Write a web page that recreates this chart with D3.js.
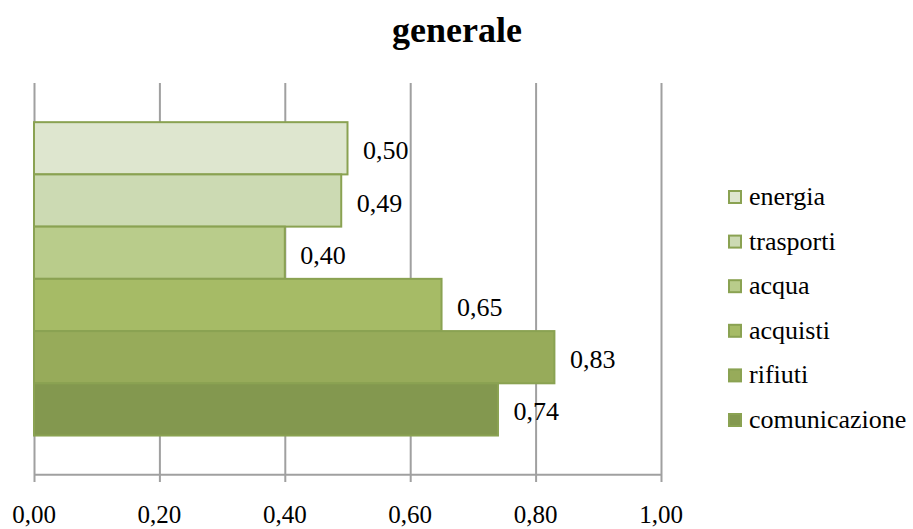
<!DOCTYPE html>
<html>
<head>
<meta charset="utf-8">
<script src="https://cdn.jsdelivr.net/npm/d3@7/dist/d3.min.js"></script>
<style>
body { margin: 0; background: #fff; }
</style>
</head>
<body>
<script>
var title = 'generale'
var series = ['energia', 'trasporti', 'acqua', 'acquisti', 'rifiuti', 'comunicazione']
var values = [0.50, 0.49, 0.40, 0.65, 0.83, 0.74]
var colors = ['#dee6cf', '#ccdab3', '#b9cc8b', '#a6bb66', '#97ab5a', '#83984f']
var ticks = [0, 0.2, 0.4, 0.6, 0.8, 1.0]

var W = 913, H = 529
var plot = { left: 34, right: 661, top: 83, bottom: 474.7 }
var serif = "'Liberation Serif', 'Times New Roman', serif"

var fmt = function (n) { return d3.format('.2f')(n).replace('.', ',') }

var svg = d3.select('body').append('svg')
    .attr('width', W)
    .attr('height', H)

svg.append('text')
    .attr('x', 457)
    .attr('y', 42)
    .attr('text-anchor', 'middle')
    .style('font-family', serif)
    .style('font-size', '36px')
    .style('font-weight', 'bold')
    .text(title)

var x = d3.scaleLinear()
    .domain([0, 1])
    .range([plot.left, plot.right])

// excel style gap width 150% around the single category
var y = d3.scaleBand()
    .domain(series)
    .range([plot.top, plot.bottom])
    .paddingInner(0)
    .paddingOuter(0.75)

var xAxis = d3.axisBottom(x)
    .tickValues(ticks)
    .tickSize(-(plot.bottom - plot.top))
    .tickFormat('')

var gx = svg.append('g')
    .attr('class', 'x axis')
    .attr('transform', 'translate(0,' + plot.bottom + ')')
    .call(xAxis)

gx.select('.domain').remove()
gx.selectAll('.tick line')
    .attr('stroke', '#a0a0a0')
    .attr('stroke-width', 2)
    .attr('y2', 7.3)
    .attr('y1', -(plot.bottom - plot.top))

svg.append('line')
    .attr('x1', x(0))
    .attr('x2', x(1))
    .attr('y1', plot.bottom)
    .attr('y2', plot.bottom)
    .attr('stroke', '#a0a0a0')
    .attr('stroke-width', 2)

svg.selectAll('.tick-label')
    .data(ticks)
    .enter().append('text')
    .attr('class', 'tick-label')
    .attr('x', function (d) { return x(d) })
    .attr('y', 523)
    .attr('text-anchor', 'middle')
    .style('font-family', serif)
    .style('font-size', '25px')
    .text(fmt)

var bars = svg.selectAll('.bar')
    .data(series)
    .enter().append('g')
    .attr('class', 'bar')

bars.append('rect')
    .attr('x', x(0))
    .attr('y', function (d) { return y(d) })
    .attr('width', function (d, i) { return x(values[i]) - x(0) })
    .attr('height', y.bandwidth())
    .attr('fill', function (d, i) { return colors[i] })
    .attr('stroke', '#8aa252')
    .attr('stroke-width', 2)

bars.append('text')
    .attr('x', function (d, i) { return x(values[i]) + 15.5 })
    .attr('y', function (d) { return y(d) + y.bandwidth() / 2 + 11 })
    .style('font-family', serif)
    .style('font-size', '26px')
    .text(function (d, i) { return fmt(values[i]) })

var legend = svg.selectAll('.legend')
    .data(series)
    .enter().append('g')
    .attr('class', 'legend')
    .attr('transform', function (d, i) { return 'translate(728,' + (205 + i * 44.6) + ')' })

legend.append('rect')
    .attr('x', 1)
    .attr('y', -14)
    .attr('width', 12)
    .attr('height', 12)
    .attr('fill', function (d, i) { return colors[i] })
    .attr('stroke', '#8aa252')
    .attr('stroke-width', 2)

legend.append('text')
    .attr('x', 21)
    .attr('y', 0)
    .style('font-family', serif)
    .style('font-size', '26px')
    .text(function (d) { return d })
</script>
</body>
</html>
